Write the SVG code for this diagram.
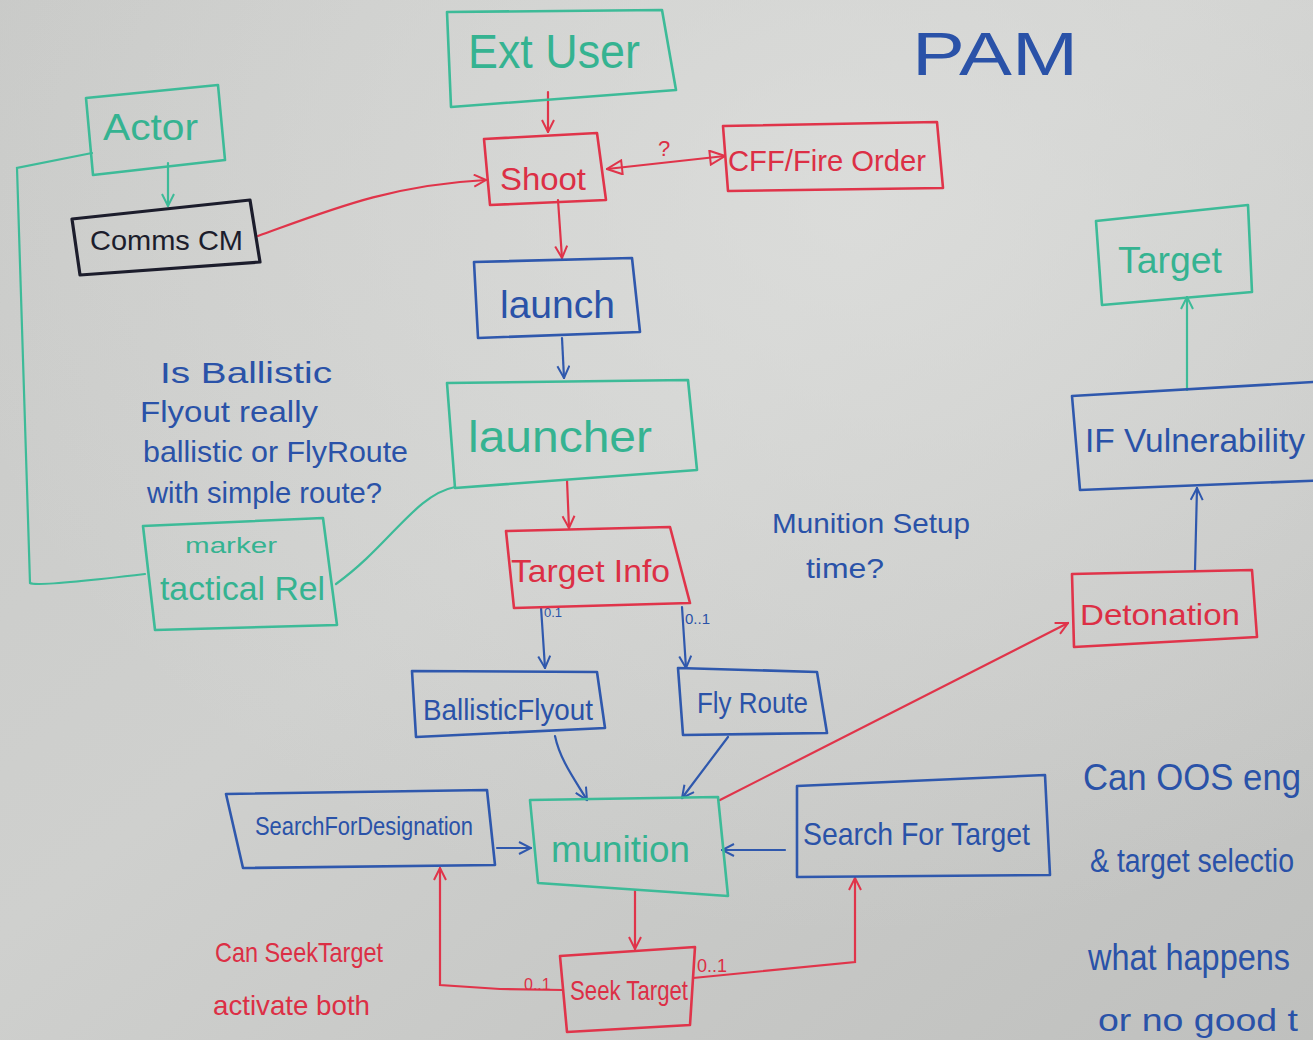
<svg xmlns="http://www.w3.org/2000/svg" width="1313" height="1040" viewBox="0 0 1313 1040">
  <defs>
    <linearGradient id="board" x1="0" y1="0" x2="1" y2="1">
      <stop offset="0" stop-color="#c9cac8"/>
      <stop offset="0.45" stop-color="#cfd0ce"/>
      <stop offset="1" stop-color="#bfc0be"/>
    </linearGradient>
    <radialGradient id="glare" cx="0.65" cy="0.2" r="0.7">
      <stop offset="0" stop-color="#e0e1df" stop-opacity="0.7"/>
      <stop offset="1" stop-color="#e0e1df" stop-opacity="0"/>
    </radialGradient>
    <marker id="aRed" viewBox="0 0 14 14" refX="13" refY="7" markerWidth="14" markerHeight="14" markerUnits="userSpaceOnUse" orient="auto">
      <path d="M1,1 L13,7 L1,13" fill="none" stroke="#e0344a" stroke-width="2"/>
    </marker>
    <marker id="aBlue" viewBox="0 0 14 14" refX="13" refY="7" markerWidth="14" markerHeight="14" markerUnits="userSpaceOnUse" orient="auto">
      <path d="M1,1 L13,7 L1,13" fill="none" stroke="#2f58ad" stroke-width="2"/>
    </marker>
    <marker id="aTeal" viewBox="0 0 14 14" refX="13" refY="7" markerWidth="14" markerHeight="14" markerUnits="userSpaceOnUse" orient="auto">
      <path d="M1,1 L13,7 L1,13" fill="none" stroke="#3dbb98" stroke-width="2"/>
    </marker>
    <marker id="triRed" viewBox="0 0 18 16" refX="17" refY="8" markerWidth="18" markerHeight="16" markerUnits="userSpaceOnUse" orient="auto-start-reverse">
      <path d="M2,1 L17,8 L2,15 Z" fill="none" stroke="#e0344a" stroke-width="2"/>
    </marker>
  </defs>
  <style>
    .hand { font-family: "Liberation Sans", "DejaVu Sans", sans-serif; }
    .teal { fill: none; stroke: #3dbb98; stroke-width: 2.6; stroke-linejoin: round; }
    .red { fill: none; stroke: #e0344a; stroke-width: 2.6; stroke-linejoin: round; }
    .blue { fill: none; stroke: #2f58ad; stroke-width: 2.6; stroke-linejoin: round; }
    .black { fill: none; stroke: #1c1d2c; stroke-width: 3.2; stroke-linejoin: round; }
    .tTeal { fill: #35b391; }
    .tRed { fill: #dc2f45; }
    .tBlue { fill: #2a52a8; }
    .tBlack { fill: #1c1d2c; }
    .edge { fill: none; stroke-width: 2.2; stroke-linecap: round; }
    .eRed { stroke: #e0344a; }
    .eBlue { stroke: #2f58ad; }
    .eTeal { stroke: #3dbb98; }
  </style>

  <!-- whiteboard surface -->
  <rect width="1313" height="1040" fill="url(#board)"/>
  <rect width="1313" height="1040" fill="url(#glare)"/>

  <!-- connectors -->
  <g id="connectors">
    <path class="edge eRed" d="M548,92 L548,132" marker-end="url(#aRed)"/>
    <path class="edge eRed" d="M607,169 L725,156" marker-start="url(#triRed)" marker-end="url(#triRed)"/>
    <path class="edge eTeal" d="M168,163 L168,206" marker-end="url(#aTeal)"/>
    <path class="edge eTeal" d="M92,153 L17,168 L30,583 Q36,587 145,574"/>
    <path class="edge eRed" d="M258,236 C330,210 390,185 486,180" marker-end="url(#aRed)"/>
    <path class="edge eRed" d="M558,200 L562,258" marker-end="url(#aRed)"/>
    <path class="edge eBlue" d="M562,338 L564,378" marker-end="url(#aBlue)"/>
    <path class="edge eRed" d="M567,480 L569,528" marker-end="url(#aRed)"/>
    <path class="edge eTeal" d="M455,487 C415,495 390,545 336,584"/>
    <path class="edge eBlue" d="M541,607 L545,668" marker-end="url(#aBlue)"/>
    <path class="edge eBlue" d="M682,607 L686,668" marker-end="url(#aBlue)"/>
    <path class="edge eBlue" d="M555,736 C560,760 575,780 587,800" marker-end="url(#aBlue)"/>
    <path class="edge eBlue" d="M728,737 L682,798" marker-end="url(#aBlue)"/>
    <path class="edge eBlue" d="M497,848 L531,848" marker-end="url(#aBlue)"/>
    <path class="edge eBlue" d="M785,850 L722,850" marker-end="url(#aBlue)"/>
    <path class="edge eRed" d="M720,800 L1068,623" marker-end="url(#aRed)"/>
    <path class="edge eRed" d="M635,891 L635,949" marker-end="url(#aRed)"/>
    <path class="edge eRed" d="M563,990 L500,989 L440,985 L440,868" marker-end="url(#aRed)"/>
    <path class="edge eRed" d="M693,978 L855,962 L855,878" marker-end="url(#aRed)"/>
    <path class="edge eBlue" d="M1195,570 L1197,488" marker-end="url(#aBlue)"/>
    <path class="edge eTeal" d="M1187,390 L1187,297" marker-end="url(#aTeal)"/>
    <text class="hand tRed" x="658" y="156" font-size="22">?</text>
    <text class="hand tBlue" x="544" y="617" font-size="13">0.1</text>
    <text class="hand tBlue" x="685" y="624" font-size="15">0..1</text>
    <text class="hand tRed" x="524" y="990" font-size="16">0..1</text>
    <text class="hand tRed" x="697" y="972" font-size="18">0..1</text>
  </g>

  <!-- nodes -->
  <g id="ext-user">
    <path class="teal" d="M447,12 L662,10 L676,90 L451,107 Z"/>
    <text class="hand tTeal" x="468" y="68" font-size="48" textLength="172" lengthAdjust="spacingAndGlyphs">Ext User</text>
  </g>
  <g id="shoot">
    <path class="red" d="M484,139 L597,133 L606,200 L490,205 Z"/>
    <text class="hand tRed" x="500" y="190" font-size="32" textLength="86" lengthAdjust="spacingAndGlyphs">Shoot</text>
  </g>
  <g id="cff-fire-order">
    <path class="red" d="M723,126 L937,122 L943,188 L728,191 Z"/>
    <text class="hand tRed" x="728" y="171" font-size="30" textLength="198" lengthAdjust="spacingAndGlyphs">CFF/Fire Order</text>
  </g>
  <g id="actor">
    <path class="teal" d="M86,98 L218,85 L225,160 L93,175 Z"/>
    <text class="hand tTeal" x="103" y="140" font-size="36" textLength="95" lengthAdjust="spacingAndGlyphs">Actor</text>
  </g>
  <g id="comms-cm">
    <path class="black" d="M72,219 L250,200 L260,262 L80,275 Z"/>
    <text class="hand tBlack" x="90" y="250" font-size="28" textLength="153" lengthAdjust="spacingAndGlyphs">Comms CM</text>
  </g>
  <g id="launch">
    <path class="blue" d="M474,262 L632,258 L640,332 L478,338 Z"/>
    <text class="hand tBlue" x="500" y="318" font-size="38" textLength="115" lengthAdjust="spacingAndGlyphs">launch</text>
  </g>
  <g id="launcher">
    <path class="teal" d="M447,383 L688,380 L697,470 L455,488 Z"/>
    <text class="hand tTeal" x="468" y="452" font-size="44" textLength="184" lengthAdjust="spacingAndGlyphs">launcher</text>
  </g>
  <g id="target-info">
    <path class="red" d="M506,531 L670,527 L690,603 L514,608 Z"/>
    <text class="hand tRed" x="511" y="582" font-size="32" textLength="159" lengthAdjust="spacingAndGlyphs">Target Info</text>
  </g>
  <g id="ballistic-flyout">
    <path class="blue" d="M412,671 L597,672 L605,728 L416,737 Z"/>
    <text class="hand tBlue" x="423" y="720" font-size="30" textLength="170" lengthAdjust="spacingAndGlyphs">BallisticFlyout</text>
  </g>
  <g id="fly-route">
    <path class="blue" d="M678,668 L817,672 L827,733 L683,735 Z"/>
    <text class="hand tBlue" x="697" y="713" font-size="30" textLength="111" lengthAdjust="spacingAndGlyphs">Fly Route</text>
  </g>
  <g id="munition">
    <path class="teal" d="M530,800 L718,797 L728,896 L538,883 Z"/>
    <text class="hand tTeal" x="551" y="862" font-size="36" textLength="139" lengthAdjust="spacingAndGlyphs">munition</text>
  </g>
  <g id="search-for-designation">
    <path class="blue" d="M226,794 L487,790 L495,865 L243,868 Z"/>
    <text class="hand tBlue" x="255" y="835" font-size="26" textLength="218" lengthAdjust="spacingAndGlyphs">SearchForDesignation</text>
  </g>
  <g id="search-for-target">
    <path class="blue" d="M797,786 L1045,775 L1050,875 L797,877 Z"/>
    <text class="hand tBlue" x="803" y="845" font-size="32" textLength="227" lengthAdjust="spacingAndGlyphs">Search For Target</text>
  </g>
  <g id="seek-target">
    <path class="red" d="M560,956 L695,947 L690,1025 L567,1032 Z"/>
    <text class="hand tRed" x="570" y="1000" font-size="28" textLength="118" lengthAdjust="spacingAndGlyphs">Seek Target</text>
  </g>
  <g id="marker-tactical-rel">
    <path class="teal" d="M143,526 L323,518 L337,625 L155,630 Z"/>
    <text class="hand tTeal" x="185" y="553" font-size="22" textLength="92" lengthAdjust="spacingAndGlyphs">marker</text>
    <text class="hand tTeal" x="160" y="600" font-size="34" textLength="165" lengthAdjust="spacingAndGlyphs">tactical Rel</text>
  </g>
  <g id="target">
    <path class="teal" d="M1096,221 L1248,205 L1252,292 L1102,305 Z"/>
    <text class="hand tTeal" x="1118" y="273" font-size="36" textLength="104" lengthAdjust="spacingAndGlyphs">Target</text>
  </g>
  <g id="if-vulnerability">
    <path class="blue" d="M1330,381 L1072,396 L1080,490 L1330,480"/>
    <text class="hand tBlue" x="1085" y="452" font-size="34" textLength="220" lengthAdjust="spacingAndGlyphs">IF Vulnerability</text>
  </g>
  <g id="detonation">
    <path class="red" d="M1072,574 L1252,570 L1257,637 L1074,647 Z"/>
    <text class="hand tRed" x="1080" y="625" font-size="30" textLength="160" lengthAdjust="spacingAndGlyphs">Detonation</text>
  </g>

  <!-- notes written on the board -->
  <g id="notes">
    <text class="hand tBlue" x="912" y="75" font-size="62" textLength="166" lengthAdjust="spacingAndGlyphs">PAM</text>
    <text class="hand tBlue" x="160" y="383" font-size="30" textLength="172" lengthAdjust="spacingAndGlyphs">Is Ballistic</text>
    <text class="hand tBlue" x="140" y="422" font-size="30" textLength="178" lengthAdjust="spacingAndGlyphs">Flyout really</text>
    <text class="hand tBlue" x="143" y="462" font-size="30" textLength="265" lengthAdjust="spacingAndGlyphs">ballistic or FlyRoute</text>
    <text class="hand tBlue" x="147" y="503" font-size="30" textLength="235" lengthAdjust="spacingAndGlyphs">with simple route?</text>
    <text class="hand tBlue" x="772" y="533" font-size="28" textLength="198" lengthAdjust="spacingAndGlyphs">Munition Setup</text>
    <text class="hand tBlue" x="806" y="578" font-size="28" textLength="78" lengthAdjust="spacingAndGlyphs">time?</text>
    <text class="hand tBlue" x="1083" y="790" font-size="36" textLength="218" lengthAdjust="spacingAndGlyphs">Can OOS eng</text>
    <text class="hand tBlue" x="1090" y="872" font-size="34" textLength="204" lengthAdjust="spacingAndGlyphs">&amp; target selectio</text>
    <text class="hand tBlue" x="1088" y="970" font-size="36" textLength="202" lengthAdjust="spacingAndGlyphs">what happens</text>
    <text class="hand tBlue" x="1098" y="1031" font-size="32" textLength="200" lengthAdjust="spacingAndGlyphs">or no good t</text>
    <text class="hand tRed" x="215" y="962" font-size="28" textLength="168" lengthAdjust="spacingAndGlyphs">Can SeekTarget</text>
    <text class="hand tRed" x="213" y="1015" font-size="28" textLength="157" lengthAdjust="spacingAndGlyphs">activate both</text>
  </g>
</svg>
